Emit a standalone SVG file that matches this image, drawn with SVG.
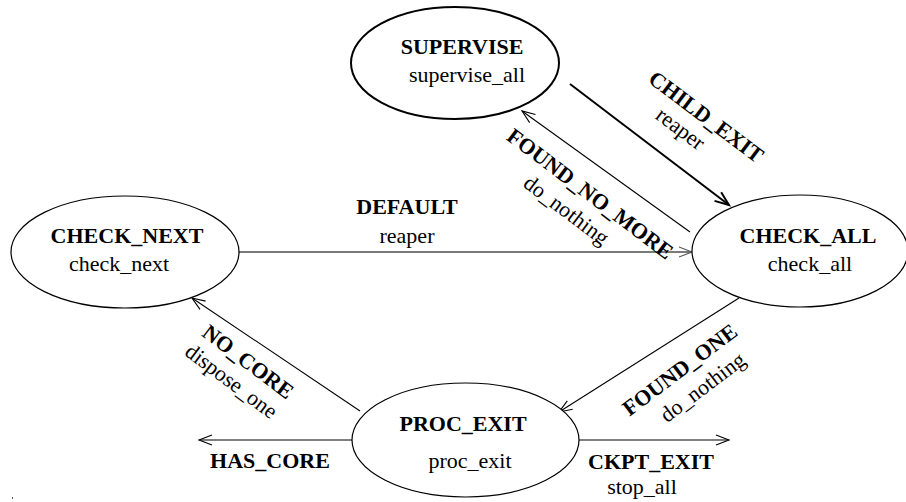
<svg xmlns="http://www.w3.org/2000/svg" width="906" height="502" viewBox="0 0 906 502">
  <style>
    .state { fill: #ffffff; stroke: #000000; stroke-width: 1.2; }
    .state.bold { stroke-width: 2; }
    .name { font-family: "Liberation Serif", "Times New Roman", serif; font-size: 22px; font-weight: bold; fill: #000000; text-anchor: middle; }
    .act { font-family: "Liberation Serif", "Times New Roman", serif; font-size: 22px; fill: #000000; text-anchor: middle; }
    .edge { fill: none; stroke: #000000; stroke-width: 1.1; }
    .edge.thick { stroke-width: 2; }
    .edge.grey { stroke: #7a7a7a; stroke-width: 2; }
  </style>
  <defs>
    <marker id="open" markerUnits="userSpaceOnUse" markerWidth="16" markerHeight="12" refX="14" refY="6" orient="auto">
      <path d="M1,1 L14,6 L1,11" fill="none" stroke="#000000" stroke-width="1.1"/>
    </marker>
    <marker id="openThick" markerUnits="userSpaceOnUse" markerWidth="18" markerHeight="14" refX="15" refY="7" orient="auto">
      <path d="M1,1.5 L15,7 L1,12.5" fill="none" stroke="#000000" stroke-width="2"/>
    </marker>
    <marker id="openGrey" markerUnits="userSpaceOnUse" markerWidth="16" markerHeight="12" refX="14" refY="6" orient="auto">
      <path d="M1,1 L14,6 L1,11" fill="none" stroke="#555555" stroke-width="1.1"/>
    </marker>
  </defs>

  <!-- transitions -->
  <g id="connectors">
    <line class="edge thick" x1="570" y1="84" x2="729" y2="205" marker-end="url(#openThick)"/>
    <line class="edge" x1="690" y1="232" x2="522" y2="111" marker-end="url(#open)"/>
    <line class="edge grey" x1="238" y1="252" x2="692" y2="252" marker-end="url(#openGrey)"/>
    <line class="edge" x1="360" y1="411" x2="192" y2="298" marker-end="url(#open)"/>
    <line class="edge" x1="739" y1="298" x2="559" y2="412" marker-end="url(#open)"/>
    <line class="edge" x1="352" y1="440" x2="199" y2="440" marker-end="url(#open)"/>
    <line class="edge" x1="579" y1="440" x2="729" y2="440" marker-end="url(#open)"/>
  </g>

  <!-- transition labels -->
  <g id="label-child-exit">
    <text class="name" transform="translate(706,117) rotate(37)" y="7">CHILD_EXIT</text>
    <text class="act" transform="translate(678,132) rotate(37)" y="3">reaper</text>
  </g>
  <g id="label-found-no-more">
    <text class="name" transform="translate(590,194) rotate(37)" y="7">FOUND_NO_MORE</text>
    <text class="act" transform="translate(565,212) rotate(37)" y="5">do_nothing</text>
  </g>
  <g id="label-default">
    <text class="name" x="407" y="214">DEFAULT</text>
    <text class="act" x="407" y="243">reaper</text>
  </g>
  <g id="label-no-core">
    <text class="name" transform="translate(248,362) rotate(37)" y="7">NO_CORE</text>
    <text class="act" transform="translate(230,383) rotate(37)" y="5">dispose_one</text>
  </g>
  <g id="label-found-one">
    <text class="name" transform="translate(680,370) rotate(-37)" y="7">FOUND_ONE</text>
    <text class="act" transform="translate(704,389) rotate(-37)" y="5">do_nothing</text>
  </g>
  <g id="label-has-core">
    <text class="name" x="270" y="468">HAS_CORE</text>
  </g>
  <g id="label-ckpt-exit">
    <text class="name" x="651" y="469">CKPT_EXIT</text>
    <text class="act" x="642" y="494">stop_all</text>
  </g>

  <!-- states -->
  <g id="supervise">
    <ellipse class="state bold" cx="455" cy="63" rx="104" ry="56"/>
    <text class="name" x="462" y="54">SUPERVISE</text>
    <text class="act" x="467" y="82">supervise_all</text>
  </g>
  <g id="check-next">
    <ellipse class="state" cx="125" cy="252" rx="114" ry="56"/>
    <text class="name" x="127" y="243">CHECK_NEXT</text>
    <text class="act" x="119" y="271">check_next</text>
  </g>
  <g id="check-all">
    <ellipse class="state" cx="800" cy="251" rx="108" ry="56"/>
    <text class="name" x="808" y="243">CHECK_ALL</text>
    <text class="act" x="810" y="271">check_all</text>
  </g>
  <g id="proc-exit">
    <ellipse class="state" cx="465.5" cy="440" rx="113.5" ry="57"/>
    <text class="name" x="463" y="431">PROC_EXIT</text>
    <text class="act" x="470" y="468">proc_exit</text>
  </g>

  <rect x="12" y="497" width="1" height="2" fill="#555555"/>
</svg>
